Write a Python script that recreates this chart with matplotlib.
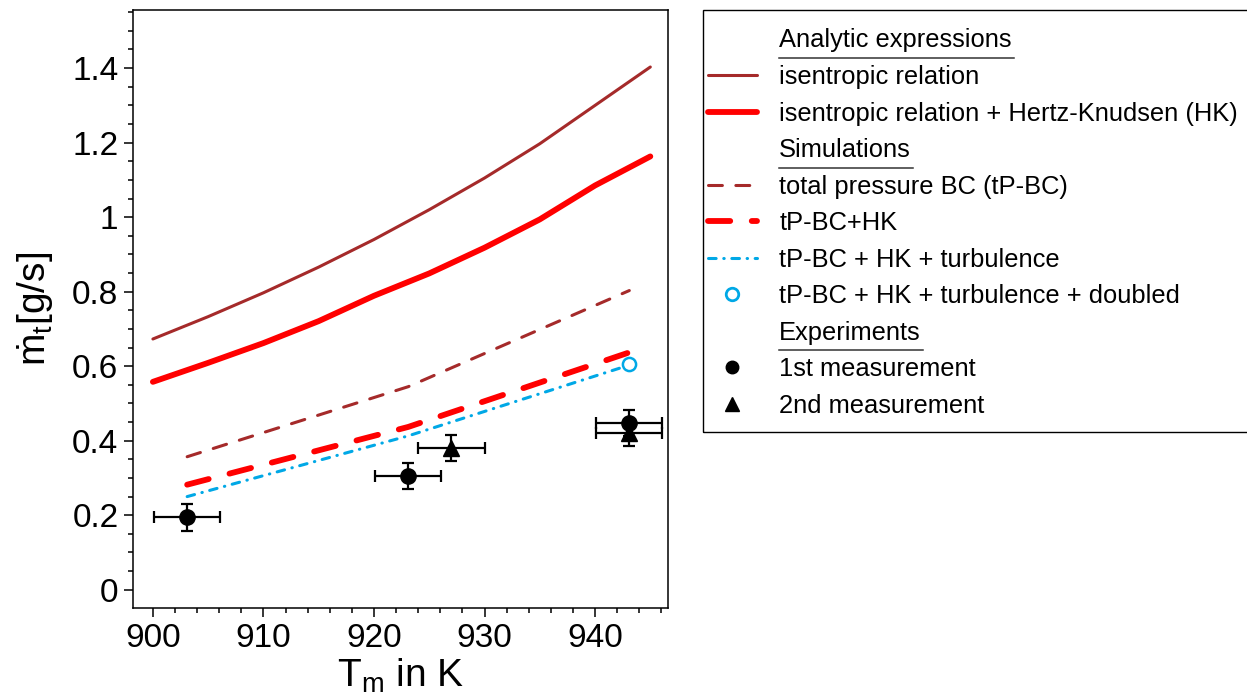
import numpy as np
import matplotlib
matplotlib.use('Agg')
import matplotlib.pyplot as plt
from matplotlib.lines import Line2D
from matplotlib.patches import Rectangle
from matplotlib.ticker import MultipleLocator
from matplotlib.transforms import IdentityTransform

plt.rcParams['font.family'] = ['Liberation Sans', 'DejaVu Sans']
plt.rcParams['mathtext.fontset'] = 'custom'
plt.rcParams['mathtext.rm'] = 'Liberation Sans'
plt.rcParams['mathtext.it'] = 'Liberation Sans:italic'
plt.rcParams['lines.scale_dashes'] = False

# analytic expressions
T_analytic = [900, 905, 910, 915, 920, 925, 930, 935, 940, 945]
m_isentropic = [0.673, 0.733, 0.797, 0.866, 0.940, 1.020, 1.105, 1.197, 1.300, 1.403]
m_isentropic_hk = [0.558, 0.609, 0.662, 0.721, 0.789, 0.849, 0.918, 0.994, 1.085, 1.163]

# simulations
T_sim = [903.1, 923.1, 943.1]
m_tpbc = [0.357, 0.545, 0.803]
m_tpbc_hk = [0.282, 0.437, 0.637]
m_tpbc_hk_turb = [0.250, 0.413, 0.603]
T_doubled = [943.1]
m_doubled = [0.607]

# experiments
T_meas1 = [903.1, 923.1, 943.1]
m_meas1 = [0.194, 0.306, 0.448]
T_meas2 = [927.0, 943.1]
m_meas2 = [0.381, 0.421]
T_err = 3.0
m_err = 0.035

brown = '#a52a2a'
cyan = '#00a8e6'

W, H = 1247, 697
fig = plt.figure(figsize=(W / 100, H / 100), dpi=100)
ax = fig.add_axes([133 / W, 1 - 608 / H, (668 - 133) / W, (608 - 10) / H])

l_isen, = ax.plot(T_analytic, m_isentropic, color=brown, lw=2.2, solid_capstyle='round')
l_hk, = ax.plot(T_analytic, m_isentropic_hk, color='red', lw=4.2, solid_capstyle='round')
l_tpbc, = ax.plot(T_sim, m_tpbc, color=brown, lw=2.2, dashes=(10, 9.7), dash_capstyle='round')
l_tpbc_hk, = ax.plot(T_sim, m_tpbc_hk, color='red', lw=4.2, dashes=(16, 15.5), dash_capstyle='round')
l_turb, = ax.plot(T_sim, m_tpbc_hk_turb, color=cyan, lw=2.2, dashes=(5.5, 5.5, 0.3, 5.5),
                  dash_capstyle='round')
ax.plot(T_doubled, m_doubled, 'o', mfc='white', mec=cyan, ms=9.5, mew=1.8, zorder=4)

ax.errorbar(T_meas1, m_meas1, xerr=T_err, yerr=m_err, fmt='o', color='black', ms=11,
            capsize=4.4, elinewidth=1.6, capthick=1.6, zorder=5)
ax.errorbar(T_meas2, m_meas2, xerr=T_err, yerr=m_err, fmt='^', color='black', ms=12,
            capsize=4.4, elinewidth=1.6, capthick=1.6, zorder=5)

ax.set_xlim(898.2, 946.6)
ax.set_ylim(-0.049, 1.556)
ax.xaxis.set_major_locator(MultipleLocator(10))
ax.xaxis.set_minor_locator(MultipleLocator(2))
ax.yaxis.set_minor_locator(MultipleLocator(0.05))
ax.set_yticks([0, 0.2, 0.4, 0.6, 0.8, 1.0, 1.2, 1.4])
ax.set_yticklabels(['0', '0.2', '0.4', '0.6', '0.8', '1', '1.2', '1.4'])
ax.tick_params(which='both', direction='out', width=1.1, labelsize=24)
ax.tick_params(which='major', length=6.5, pad=4)
ax.tick_params(which='minor', length=3.3)
for sp in ax.spines.values():
    sp.set_linewidth(1.1)

ax.set_xlabel(r'T$_\mathrm{m}$ in K', fontsize=28, labelpad=2)
ax.set_ylabel(r'$\dot{\mathrm{m}}_\mathrm{t}$[g/s]', fontsize=28, labelpad=12)

# legend
heading = Line2D([], [], color='none')
h_doubled = Line2D([], [], ls='none', marker='o', mfc='white', mec=cyan, ms=9, mew=2)
h_m1 = Line2D([], [], ls='none', marker='o', color='black', ms=9)
h_m2 = Line2D([], [], ls='none', marker='^', color='black', ms=10)
handles = [heading, l_isen, l_hk, heading, l_tpbc, l_tpbc_hk, l_turb, h_doubled,
           heading, h_m1, h_m2]
labels = ['Analytic expressions', 'isentropic relation',
          'isentropic relation + Hertz-Knudsen (HK)', 'Simulations',
          'total pressure BC (tP-BC)', 'tP-BC+HK', 'tP-BC + HK + turbulence',
          'tP-BC + HK + turbulence + doubled', 'Experiments',
          '1st measurement', '2nd measurement']
headings = ['Analytic expressions', 'Simulations', 'Experiments']

leg = fig.legend(handles, labels, loc='upper left', bbox_to_anchor=(707.7 / W, 1 - 28.5 / H),
                 frameon=False, fontsize=18.4, borderpad=0, borderaxespad=0,
                 handlelength=1.93, handletextpad=0.87, labelspacing=0.49)
fig.add_artist(Rectangle((703 / W, 1 - 432 / H), (W + 10 - 703) / W, (432 - 10) / H,
                         transform=fig.transFigure, fill=False, edgecolor='black', lw=1.0,
                         clip_on=False))

fig.canvas.draw()
for t in leg.get_texts():
    if t.get_text() in headings:
        bb = t.get_window_extent()
        yc = (bb.y0 + bb.y1) / 2 - 17.5
        fig.add_artist(Line2D([bb.x0, bb.x1 + 2], [yc, yc], color='#333333', lw=1.1,
                              transform=IdentityTransform()))

fig.savefig('out.png', dpi=100)
